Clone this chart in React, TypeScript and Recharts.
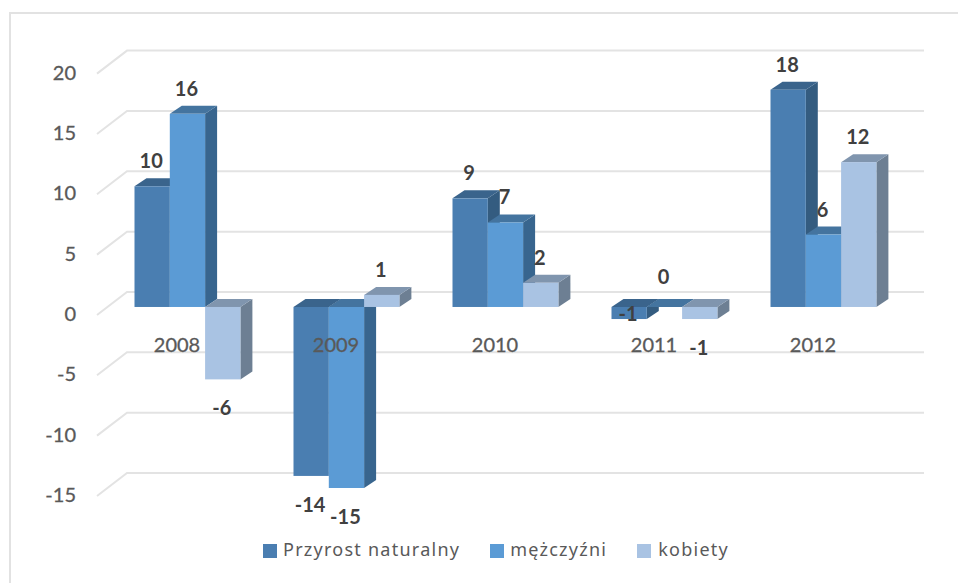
import React from "react";
import { BarChart, Bar, XAxis, YAxis, CartesianGrid, LabelList, Legend } from "recharts";

const years = ["2008", "2009", "2010", "2011", "2012"];
const przyrost = [10, -14, 9, -1, 18];
const mezczyzni = [16, -15, 7, 0, 6];
const kobiety = [-6, 1, 2, -1, 12];
const yTicks = [-15, -10, -5, 0, 5, 10, 15, 20];

const data = years.map((year, i) => ({
  year,
  przyrost: przyrost[i],
  mezczyzni: mezczyzni[i],
  kobiety: kobiety[i],
}));

const DEPTH_X = 12;
const DEPTH_Y = 8;
const FONT = "Lato, sans-serif";

const COLORS = {
  przyrost: { front: "#4a7eb1", top: "#3a648c", side: "#345c80" },
  mezczyzni: { front: "#5b9bd5", top: "#44749f", side: "#38658e" },
  kobiety: { front: "#a9c3e3", top: "#8095ae", side: "#6d7f93" },
};

// the -1 and 0 labels of 2011 sit apart from their bars in the original
const labelNudge: Record<string, Record<number, number>> = {
  przyrost: { 3: -34 },
  mezczyzni: { 3: -5 },
};

const box = (y: number, height: number) => ({
  top: Math.min(y, y + height),
  bottom: Math.max(y, y + height),
});

const bar3d = (c: { front: string; top: string; side: string }) => (props: any) => {
  const { x, y, width, height } = props;
  const { top, bottom } = box(y, height);
  const r = x + width;
  return (
    <g>
      <polygon
        points={`${r},${top} ${r + DEPTH_X},${top - DEPTH_Y} ${r + DEPTH_X},${bottom - DEPTH_Y} ${r},${bottom}`}
        fill={c.side}
      />
      <polygon
        points={`${x},${top} ${x + DEPTH_X},${top - DEPTH_Y} ${r + DEPTH_X},${top - DEPTH_Y} ${r},${top}`}
        fill={c.top}
      />
      <rect x={x} y={top} width={width} height={bottom - top} fill={c.front} />
    </g>
  );
};

const barLabel = (key: string) => (props: any) => {
  const { x, y, width, height, value, index } = props;
  const { top, bottom } = box(y, height);
  const base = value < 0 ? bottom + 29 : top - 25;
  const cy = base + (labelNudge[key]?.[index] ?? 0);
  return (
    <text
      x={x + width / 2 - 1}
      y={cy + 7}
      textAnchor="middle"
      fontFamily={FONT}
      fontSize={20}
      fontWeight={700}
      fill="#404040"
    >
      {value}
    </text>
  );
};

const gridLine = (props: any) => {
  const y = props.y1;
  return (
    <g key={props.key ?? y} stroke="#e3e3e3" strokeWidth={2} fill="none">
      <polyline points={`97,${y + 8} 127,${y - 15} 924,${y - 15}`} />
    </g>
  );
};

const yTick = (props: any) => (
  <text x={76} y={props.y + 14} textAnchor="end" fontFamily={FONT} fontSize={20} fill="#595959" stroke="#595959" strokeWidth={0.3}>
    {props.payload.value}
  </text>
);

const xTick = (props: any) => (
  <text x={props.x - 10} y={352} textAnchor="middle" fontFamily={FONT} fontSize={20} fill="#595959" stroke="#595959" strokeWidth={0.3}>
    {props.payload.value}
  </text>
);

const legendContent = (props: any) => (
  <div style={{ display: "flex", fontFamily: "'Noto Sans', sans-serif", fontSize: 18, color: "#595959", whiteSpace: "nowrap" }}>
    {props.payload.map((item: any, i: number) => (
      <div key={item.value} style={{ display: "flex", alignItems: "center", marginRight: 30 }}>
        <span style={{ width: 14, height: 14, background: item.color, marginRight: i === 2 ? 7 : 6, marginTop: 4 }} />
        <span style={{ letterSpacing: 1.25 }}>{item.value}</span>
      </div>
    ))}
  </div>
);

export default function App() {
  return (
    <div style={{ position: "absolute", left: 0, top: 0, width: 958, height: 583, background: "#fff", overflow: "hidden" }}>
      <div style={{ position: "absolute", left: 9, top: 12, width: 960, height: 600, borderLeft: "2px solid #e2e2e2", borderTop: "2px solid #e2e2e2" }} />
      <div style={{ position: "absolute", left: 0, top: 0 }}>
        <BarChart
          width={958}
          height={583}
          data={data}
          barSize={35.3}
          barGap={0}
          margin={{ top: 65.6, right: 55.5, bottom: 65, left: 0 }}
        >
          <CartesianGrid vertical={false} horizontal={gridLine} />
          <YAxis width={107.5} domain={[-15, 20]} ticks={yTicks} axisLine={false} tickLine={false} tick={yTick} />
          <XAxis dataKey="year" height={30} interval={0} axisLine={false} tickLine={false} tick={xTick} />
          <Legend
            verticalAlign="middle"
            align="center"
            itemSorter={null}
            content={legendContent}
            wrapperStyle={{ left: 263, top: 537, width: 560 }}
          />
          <Bar dataKey="przyrost" name="Przyrost naturalny" fill={COLORS.przyrost.front} isAnimationActive={false} shape={bar3d(COLORS.przyrost)}>
            <LabelList dataKey="przyrost" content={barLabel("przyrost")} />
          </Bar>
          <Bar dataKey="mezczyzni" name="mężczyźni" fill={COLORS.mezczyzni.front} isAnimationActive={false} shape={bar3d(COLORS.mezczyzni)}>
            <LabelList dataKey="mezczyzni" content={barLabel("mezczyzni")} />
          </Bar>
          <Bar dataKey="kobiety" name="kobiety" fill={COLORS.kobiety.front} isAnimationActive={false} shape={bar3d(COLORS.kobiety)}>
            <LabelList dataKey="kobiety" content={barLabel("kobiety")} />
          </Bar>
        </BarChart>
      </div>
    </div>
  );
}
